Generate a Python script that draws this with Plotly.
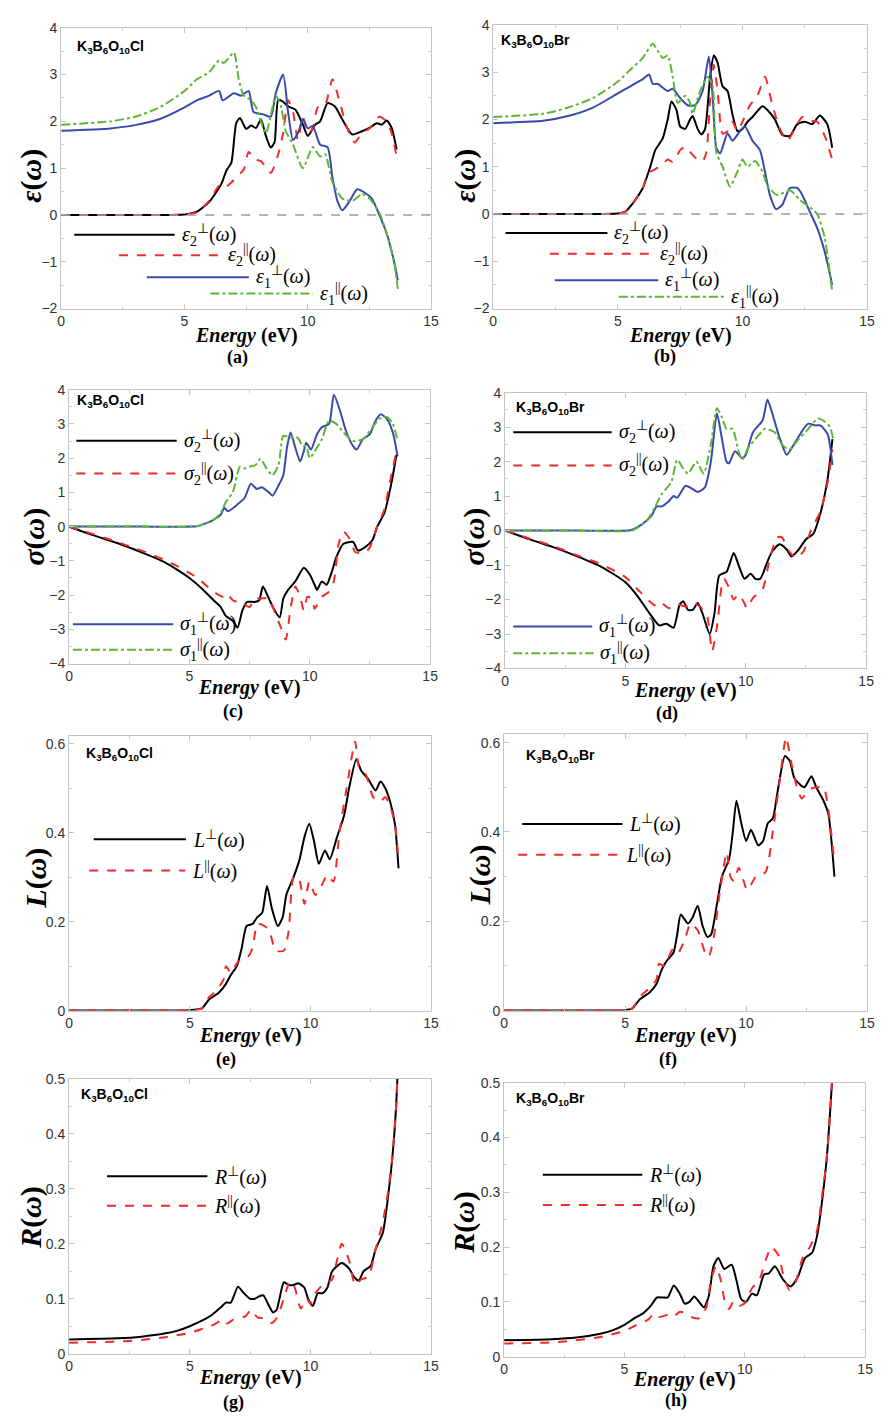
import plotly.graph_objects as go

W, H = 883, 1423

# ---------------- data (Energy in eV) ----------------
# (a) K3B6O10Cl dielectric function
a_e2perp_x = [0, 3, 5, 5.5, 6, 6.5, 6.7, 6.9, 7.1, 7.25, 7.5, 7.7, 7.9, 8.1, 8.3, 8.5, 8.65, 8.8, 9.0, 9.2, 9.5, 9.8, 10.0, 10.3, 10.5, 10.8, 11.1, 11.4, 11.8, 12.2, 12.5, 12.8, 13.0, 13.2, 13.4, 13.6]
a_e2perp_y = [0, 0, 0.01, 0.07, 0.28, 0.67, 0.95, 1.12, 1.97, 2.07, 1.84, 1.91, 1.86, 2.04, 1.69, 1.44, 1.55, 2.46, 2.42, 2.32, 2.25, 1.93, 1.69, 1.93, 2.0, 2.39, 2.32, 2.04, 1.72, 1.79, 1.86, 1.96, 1.93, 2.02, 1.86, 1.40]
a_e2par_x = [0, 3, 5, 5.5, 6, 6.4, 6.6, 7.0, 7.4, 7.6, 7.8, 8.1, 8.5, 8.8, 9.0, 9.2, 9.4, 9.6, 9.8, 10.0, 10.2, 10.4, 10.7, 11.0, 11.3, 11.6, 11.9, 12.2, 12.5, 12.9, 13.2, 13.4, 13.6]
a_e2par_y = [0, 0, 0.01, 0.06, 0.3, 0.62, 0.57, 0.75, 0.97, 1.35, 1.2, 1.15, 0.9, 1.3, 1.75, 2.45, 2.2, 1.6, 2.1, 1.75, 1.85, 2.3, 2.35, 2.9, 2.4, 1.85, 1.55, 1.75, 1.85, 2.1, 2.0, 1.75, 1.25]
a_e1perp_x = [0, 2, 3, 4, 5, 5.5, 6.0, 6.4, 6.55, 7.0, 7.3, 7.6, 7.8, 8.2, 8.5, 8.7, 9.0, 9.2, 9.4, 9.6, 9.8, 10.0, 10.2, 10.5, 10.8, 11.0, 11.2, 11.4, 11.7, 12.0, 12.3, 12.6, 12.9, 13.2, 13.5, 13.65]
a_e1perp_y = [1.8, 1.85, 1.92, 2.05, 2.3, 2.45, 2.55, 2.65, 2.45, 2.6, 2.55, 2.65, 2.2, 2.15, 2.1, 2.6, 3.0, 2.2, 1.6, 1.75, 2.05, 1.85, 1.9, 1.5, 1.45, 0.8, 0.3, 0.1, 0.3, 0.55, 0.48, 0.35, 0.0, -0.4, -1.0, -1.4]
a_e1par_x = [0, 2, 3, 4, 5, 5.5, 6.0, 6.4, 6.6, 7.0, 7.2, 7.4, 7.7, 7.9, 8.3, 8.7, 8.9, 9.1, 9.4, 9.8, 10.2, 10.5, 10.7, 11.0, 11.4, 11.8, 12.2, 12.5, 12.9, 13.2, 13.5, 13.65]
a_e1par_y = [1.93, 2.0, 2.1, 2.3, 2.65, 2.9, 3.05, 3.3, 3.25, 3.47, 2.9, 2.55, 2.45, 2.3, 1.75, 2.55, 2.35, 1.8, 1.5, 1.0, 1.45, 1.25, 1.3, 0.7, 0.35, 0.3, 0.45, 0.35, 0.05, -0.4, -1.0, -1.58]

# (b) K3B6O10Br dielectric function
b_e2perp_x = [0, 3, 5, 5.3, 5.7, 6.0, 6.3, 6.5, 6.8, 7.0, 7.15, 7.35, 7.5, 7.7, 7.9, 8.0, 8.2, 8.35, 8.5, 8.7, 8.85, 9.0, 9.2, 9.4, 9.6, 9.8, 10.0, 10.2, 10.4, 10.8, 11.0, 11.3, 11.6, 11.9, 12.2, 12.5, 12.8, 13.1, 13.4, 13.6]
b_e2perp_y = [0, 0, 0.01, 0.05, 0.3, 0.55, 1.0, 1.35, 1.6, 2.0, 2.38, 2.2, 1.85, 1.8, 2.0, 2.07, 1.8, 1.68, 1.8, 2.9, 3.35, 3.2, 2.7, 2.6, 2.1, 1.75, 1.8, 1.95, 2.05, 2.28, 2.2, 2.0, 1.67, 1.65, 1.9, 1.95, 1.9, 2.08, 1.9, 1.4]
b_e2par_x = [0, 3, 5, 5.3, 5.7, 6.0, 6.2, 6.5, 6.8, 7.0, 7.2, 7.5, 7.7, 8.0, 8.2, 8.4, 8.55, 8.7, 8.85, 9.0, 9.2, 9.4, 9.6, 9.8, 10.0, 10.3, 10.6, 10.9, 11.2, 11.5, 11.8, 12.1, 12.4, 12.7, 13.0, 13.3, 13.6]
b_e2par_y = [0, 0, 0.01, 0.05, 0.3, 0.55, 0.85, 0.95, 1.05, 1.15, 1.1, 1.35, 1.42, 1.25, 1.15, 1.12, 1.3, 2.4, 3.15, 2.6, 1.7, 1.75, 1.95, 1.75, 1.95, 2.3, 2.5, 2.9, 2.3, 1.8, 1.55, 1.8, 2.05, 1.97, 1.95, 1.65, 1.15]
b_e1perp_x = [0, 2, 3, 4, 5, 5.5, 6.0, 6.25, 6.4, 6.6, 7.0, 7.2, 7.5, 7.8, 8.1, 8.4, 8.65, 8.8, 8.95, 9.1, 9.4, 9.6, 9.9, 10.1, 10.4, 10.7, 10.9, 11.1, 11.35, 11.6, 11.9, 12.2, 12.4, 12.7, 13.0, 13.3, 13.6]
b_e1perp_y = [1.92, 1.97, 2.07, 2.25, 2.55, 2.7, 2.85, 2.95, 2.75, 2.75, 2.6, 2.65, 2.45, 2.3, 2.3, 2.6, 3.33, 2.5, 1.4, 1.28, 1.7, 1.55, 1.75, 1.85, 1.55, 1.35, 0.9, 0.4, 0.1, 0.2, 0.55, 0.55, 0.4, 0.05, -0.3, -0.8, -1.5]
b_e1par_x = [0, 2, 3, 4, 5, 5.5, 6.0, 6.4, 6.6, 6.8, 7.0, 7.2, 7.4, 7.7, 7.9, 8.0, 8.3, 8.6, 8.8, 8.95, 9.2, 9.5, 9.8, 10.0, 10.2, 10.5, 10.8, 11.0, 11.4, 11.9, 12.3, 12.8, 13.0, 13.3, 13.6]
b_e1par_y = [2.05, 2.12, 2.25, 2.45, 2.8, 3.05, 3.3, 3.6, 3.45, 3.3, 3.35, 2.9, 2.35, 2.5, 2.35, 2.12, 2.6, 2.9, 2.7, 1.3, 1.0, 0.58, 0.9, 1.15, 1.0, 1.12, 0.9, 0.6, 0.4, 0.5, 0.3, 0.1, 0.0, -0.5, -1.65]

# (c) K3B6O10Cl conductivity
c_s1perp_x = [0, 3, 5.3, 5.5, 6.0, 6.3, 6.45, 6.6, 7.0, 7.3, 7.55, 7.8, 8.0, 8.3, 8.45, 8.7, 8.9, 9.05, 9.2, 9.4, 9.6, 9.75, 9.85, 10.05, 10.3, 10.5, 10.8, 11.0, 11.25, 11.5, 11.8, 11.95, 12.2, 12.5, 12.7, 12.95, 13.2, 13.45, 13.65]
c_s1perp_y = [0, 0, 0.01, 0.05, 0.2, 0.35, 0.55, 0.45, 0.65, 0.85, 1.25, 1.1, 1.15, 1.0, 0.9, 1.2, 1.5, 2.3, 2.75, 2.3, 1.9, 2.2, 2.45, 2.25, 2.7, 2.9, 3.0, 3.85, 3.4, 2.8, 2.35, 2.25, 2.55, 2.7, 3.05, 3.28, 3.15, 2.75, 2.05]
c_s1par_x = [0, 3, 5.3, 6.0, 6.3, 6.5, 6.8, 7.1, 7.3, 7.5, 7.75, 7.95, 8.2, 8.45, 8.7, 8.9, 9.2, 9.5, 9.7, 9.85, 10.0, 10.2, 10.5, 10.8, 11.1, 11.4, 11.8, 12.2, 12.5, 12.9, 13.2, 13.45, 13.65]
c_s1par_y = [0, 0, 0.01, 0.2, 0.4, 0.7, 1.0, 1.75, 1.7, 1.75, 1.8, 1.98, 1.7, 1.5, 1.8, 2.65, 2.6, 2.6, 2.35, 2.35, 2.0, 2.2, 2.55, 3.1, 3.0, 2.75, 2.5, 2.55, 2.8, 3.15, 3.2, 3.0, 2.5]
c_s2perp_x = [0, 1, 2, 3, 4, 5, 5.5, 6.0, 6.3, 6.5, 6.8, 7.0, 7.2, 7.4, 7.7, 7.9, 8.05, 8.3, 8.5, 8.75, 8.9, 9.1, 9.4, 9.75, 10.0, 10.2, 10.3, 10.5, 10.7, 10.9, 11.1, 11.4, 11.8, 12.0, 12.3, 12.6, 12.8, 13.1, 13.4, 13.6]
c_s2perp_y = [0, -0.25, -0.48, -0.75, -1.05, -1.5, -1.8, -2.15, -2.35, -2.6, -2.75, -2.95, -2.45, -2.2, -2.2, -2.15, -1.75, -2.1, -2.4, -2.65, -2.1, -1.85, -1.6, -1.2, -1.4, -1.7, -1.85, -1.6, -1.7, -1.35, -0.9, -0.5, -0.45, -0.7, -0.6, -0.4, 0.0, 0.4, 1.3, 2.1]
c_s2par_x = [0, 1, 2, 3, 4, 5, 5.5, 6.0, 6.4, 6.55, 6.8, 7.2, 7.5, 7.7, 8.0, 8.3, 8.6, 8.8, 9.0, 9.2, 9.4, 9.6, 9.75, 9.9, 10.1, 10.2, 10.5, 10.8, 11.0, 11.2, 11.4, 11.65, 11.9, 12.3, 12.5, 12.8, 13.1, 13.3, 13.6]
c_s2par_y = [0, -0.22, -0.45, -0.7, -0.98, -1.35, -1.6, -1.9, -2.05, -1.95, -2.15, -2.25, -2.35, -2.1, -2.1, -2.1, -2.6, -2.95, -3.3, -2.4, -1.75, -2.05, -2.45, -2.05, -2.1, -2.4, -2.05, -1.9, -1.6, -0.5, -0.15, -0.35, -0.75, -0.75, -0.6, 0.0, 0.5, 1.2, 2.2]

# (d) K3B6O10Br conductivity
d_s1perp_x = [0, 3, 5.2, 5.5, 5.9, 6.1, 6.3, 6.5, 6.8, 7.0, 7.15, 7.5, 7.8, 8.0, 8.3, 8.55, 8.8, 9.0, 9.2, 9.3, 9.55, 9.85, 10.0, 10.3, 10.7, 10.9, 11.1, 11.4, 11.7, 12.0, 12.4, 12.6, 12.9, 13.1, 13.4, 13.6]
d_s1perp_y = [0, 0, 0.01, 0.1, 0.3, 0.45, 0.7, 0.7, 0.85, 1.0, 0.95, 1.3, 1.2, 1.12, 1.25, 2.0, 3.4, 2.7, 2.0, 1.95, 2.3, 2.1, 2.2, 2.85, 3.2, 3.8, 3.4, 2.7, 2.2, 2.5, 2.95, 3.1, 3.05, 3.05, 2.8, 1.9]
d_s1par_x = [0, 3, 5.3, 5.9, 6.2, 6.5, 6.9, 7.15, 7.4, 7.6, 7.95, 8.25, 8.55, 8.8, 9.0, 9.2, 9.45, 9.7, 9.85, 10.1, 10.4, 10.8, 11.2, 11.5, 11.8, 12.2, 12.6, 13.0, 13.3, 13.5, 13.65]
d_s1par_y = [0, 0, 0.01, 0.3, 0.65, 1.05, 1.4, 2.05, 1.8, 1.65, 2.0, 1.65, 2.5, 3.55, 3.3, 2.95, 2.95, 2.3, 2.05, 2.4, 2.65, 2.95, 2.85, 2.5, 2.35, 2.65, 2.95, 3.25, 3.15, 3.0, 2.6]
d_s2perp_x = [0, 1, 2, 3, 4, 5, 5.5, 6.0, 6.4, 6.7, 7.0, 7.25, 7.4, 7.6, 7.8, 8.0, 8.2, 8.5, 8.7, 8.9, 9.2, 9.5, 9.7, 9.95, 10.2, 10.4, 10.6, 10.9, 11.1, 11.4, 11.7, 11.9, 12.2, 12.5, 12.8, 13.1, 13.4, 13.6]
d_s2perp_y = [0, -0.25, -0.48, -0.75, -1.05, -1.5, -1.9, -2.4, -2.75, -2.7, -2.82, -2.15, -2.05, -2.3, -2.3, -2.1, -2.4, -3.0, -2.4, -1.3, -1.2, -0.65, -1.0, -1.4, -1.25, -1.4, -1.4, -0.9, -0.6, -0.4, -0.55, -0.75, -0.55, -0.25, -0.1, 0.5, 1.5, 2.65]
d_s2par_x = [0, 1, 2, 3, 4, 5, 5.5, 6.0, 6.3, 6.5, 6.8, 7.2, 7.5, 7.8, 8.1, 8.4, 8.6, 8.8, 9.0, 9.1, 9.3, 9.5, 9.7, 9.9, 10.05, 10.3, 10.7, 11.0, 11.3, 11.5, 11.8, 12.1, 12.4, 12.7, 13.1, 13.4, 13.6]
d_s2par_y = [0, -0.23, -0.45, -0.72, -0.98, -1.35, -1.7, -2.05, -2.2, -2.1, -2.25, -2.15, -2.2, -2.1, -2.2, -2.5, -3.5, -2.8, -1.6, -1.4, -1.65, -2.0, -1.85, -2.05, -2.25, -1.95, -1.7, -0.8, -0.2, -0.2, -0.6, -0.8, -0.6, 0.0, 0.55, 1.4, 2.35]

# (e) K3B6O10Cl energy loss
e_lperp_x = [0, 3, 5, 5.5, 5.8, 6.2, 6.5, 6.7, 6.95, 7.15, 7.35, 7.6, 7.8, 8.0, 8.2, 8.4, 8.65, 8.85, 9.0, 9.3, 9.55, 9.75, 9.95, 10.15, 10.35, 10.6, 10.8, 11.1, 11.4, 11.6, 11.9, 12.1, 12.4, 12.7, 12.9, 13.1, 13.3, 13.5, 13.65]
e_lperp_y = [0, 0, 0.001, 0.005, 0.025, 0.04, 0.06, 0.08, 0.1, 0.14, 0.19, 0.195, 0.21, 0.22, 0.28, 0.23, 0.19, 0.21, 0.26, 0.3, 0.34, 0.39, 0.42, 0.38, 0.33, 0.36, 0.34, 0.39, 0.44, 0.5, 0.565, 0.54, 0.52, 0.495, 0.515, 0.5, 0.47, 0.42, 0.32]
e_lpar_x = [0, 3, 5, 5.5, 5.8, 6.1, 6.4, 6.5, 6.7, 7.0, 7.4, 7.6, 7.8, 8.1, 8.3, 8.55, 8.9, 9.1, 9.3, 9.5, 9.75, 9.95, 10.2, 10.45, 10.7, 10.95, 11.2, 11.5, 11.85, 12.0, 12.3, 12.6, 12.9, 13.1, 13.3, 13.5, 13.65]
e_lpar_y = [0, 0, 0.001, 0.005, 0.03, 0.045, 0.07, 0.1, 0.085, 0.11, 0.12, 0.14, 0.195, 0.19, 0.18, 0.135, 0.135, 0.18, 0.3, 0.3, 0.24, 0.29, 0.26, 0.28, 0.305, 0.29, 0.4, 0.5, 0.605, 0.55, 0.53, 0.48, 0.47, 0.48, 0.46, 0.42, 0.34]

# (f) K3B6O10Br energy loss
f_lperp_x = [0, 3, 5, 5.3, 5.6, 6.0, 6.3, 6.5, 6.7, 7.0, 7.15, 7.3, 7.6, 7.8, 8.0, 8.2, 8.4, 8.55, 8.8, 9.0, 9.3, 9.45, 9.6, 9.8, 10.0, 10.2, 10.5, 10.7, 10.9, 11.1, 11.3, 11.6, 11.8, 12.0, 12.4, 12.7, 12.9, 13.2, 13.4, 13.65]
f_lperp_y = [0, 0, 0.001, 0.005, 0.025, 0.04, 0.06, 0.09, 0.11, 0.13, 0.17, 0.215, 0.195, 0.21, 0.235, 0.19, 0.165, 0.17, 0.24, 0.3, 0.34, 0.4, 0.47, 0.42, 0.38, 0.405, 0.37, 0.38, 0.42, 0.43, 0.49, 0.57, 0.56, 0.52, 0.5, 0.525, 0.5, 0.47, 0.44, 0.3]
f_lpar_x = [0, 3, 5, 5.3, 5.6, 6.0, 6.3, 6.4, 6.6, 7.0, 7.2, 7.5, 7.7, 8.0, 8.3, 8.45, 8.65, 8.9, 9.1, 9.2, 9.35, 9.5, 9.7, 10.05, 10.4, 10.8, 11.1, 11.4, 11.65, 11.85, 12.1, 12.3, 12.6, 12.9, 13.2, 13.4, 13.65]
f_lpar_y = [0, 0, 0.001, 0.005, 0.03, 0.05, 0.07, 0.105, 0.1, 0.14, 0.13, 0.165, 0.195, 0.18, 0.13, 0.12, 0.16, 0.26, 0.33, 0.355, 0.3, 0.29, 0.32, 0.27, 0.3, 0.31, 0.4, 0.52, 0.612, 0.56, 0.5, 0.475, 0.495, 0.5, 0.5, 0.45, 0.33]

# (g) K3B6O10Cl reflectivity
g_rperp_x = [0, 2, 3, 4, 4.5, 5.0, 5.5, 5.9, 6.3, 6.5, 6.7, 7.0, 7.2, 7.5, 7.7, 7.9, 8.05, 8.25, 8.45, 8.6, 8.9, 9.1, 9.3, 9.5, 9.75, 9.9, 10.1, 10.3, 10.5, 10.7, 10.9, 11.3, 11.6, 11.8, 12.0, 12.2, 12.5, 12.7, 13.0, 13.2, 13.4, 13.55, 13.6]
g_rperp_y = [0.026, 0.028, 0.031, 0.037, 0.042, 0.05, 0.06, 0.07, 0.085, 0.093, 0.093, 0.122, 0.112, 0.1, 0.1, 0.105, 0.106, 0.09, 0.075, 0.08, 0.13, 0.125, 0.125, 0.128, 0.12, 0.1, 0.087, 0.11, 0.11, 0.12, 0.15, 0.165, 0.155, 0.14, 0.133, 0.15, 0.16, 0.19, 0.22, 0.28, 0.36, 0.45, 0.5]
g_rpar_x = [0, 2, 3, 4, 5.0, 5.5, 6.0, 6.4, 6.55, 6.8, 7.3, 7.55, 7.8, 8.1, 8.4, 8.6, 8.9, 9.15, 9.35, 9.6, 9.85, 10.0, 10.2, 10.5, 10.9, 11.05, 11.3, 11.6, 11.85, 12.1, 12.4, 12.7, 13.0, 13.2, 13.4, 13.55, 13.6]
g_rpar_y = [0.02, 0.022, 0.025, 0.03, 0.038, 0.045, 0.053, 0.062, 0.055, 0.062, 0.068, 0.08, 0.066, 0.064, 0.056, 0.065, 0.1, 0.132, 0.12, 0.082, 0.1, 0.09, 0.11, 0.125, 0.135, 0.16, 0.2, 0.17, 0.125, 0.135, 0.14, 0.19, 0.24, 0.29, 0.36, 0.45, 0.5]

# (h) K3B6O10Br reflectivity
h_rperp_x = [0, 2, 3, 4, 4.5, 5.0, 5.4, 5.8, 6.1, 6.35, 6.6, 6.8, 7.05, 7.3, 7.5, 7.7, 7.9, 8.1, 8.3, 8.5, 8.7, 8.9, 9.15, 9.45, 9.65, 9.85, 10.05, 10.3, 10.5, 10.8, 11.0, 11.25, 11.6, 11.9, 12.2, 12.5, 12.8, 13.0, 13.2, 13.4, 13.55, 13.62]
h_rperp_y = [0.03, 0.032, 0.035, 0.042, 0.048, 0.058, 0.07, 0.08, 0.093, 0.108, 0.108, 0.108, 0.13, 0.115, 0.097, 0.1, 0.11, 0.1, 0.09, 0.11, 0.165, 0.18, 0.16, 0.168, 0.14, 0.105, 0.1, 0.115, 0.112, 0.15, 0.152, 0.165, 0.14, 0.128, 0.145, 0.18, 0.19, 0.22, 0.28, 0.36, 0.45, 0.5]
h_rpar_x = [0, 2, 3, 4, 5.0, 5.5, 6.0, 6.2, 6.4, 6.8, 7.0, 7.3, 7.5, 7.8, 8.1, 8.4, 8.6, 8.8, 9.0, 9.2, 9.35, 9.55, 9.8, 10.0, 10.3, 10.6, 10.9, 11.1, 11.4, 11.6, 11.85, 12.1, 12.4, 12.7, 13.0, 13.2, 13.4, 13.55, 13.62]
h_rpar_y = [0.024, 0.026, 0.03, 0.036, 0.047, 0.058, 0.068, 0.078, 0.072, 0.076, 0.072, 0.082, 0.08, 0.072, 0.07, 0.09, 0.14, 0.165, 0.14, 0.095, 0.087, 0.102, 0.093, 0.098, 0.125, 0.14, 0.18, 0.2, 0.185, 0.15, 0.122, 0.135, 0.18, 0.2, 0.23, 0.29, 0.36, 0.45, 0.5]

x_ticks = [0, 5, 10, 15]
panel_letters = ["(a)", "(b)", "(c)", "(d)", "(e)", "(f)", "(g)", "(h)"]
compounds = ["K<sub>3</sub>B<sub>6</sub>O<sub>10</sub>Cl", "K<sub>3</sub>B<sub>6</sub>O<sub>10</sub>Br"]

# ---------------- styles ----------------
BLACK = "#000000"
RED = "#f22a2a"
BLUE = "#3a4aab"
GREEN = "#5cb832"
STY = {
    "k": dict(color=BLACK, dash="solid"),
    "r": dict(color=RED, dash="dash"),
    "b": dict(color=BLUE, dash="solid"),
    "g": dict(color=GREEN, dash="dashdot"),
}
SERIF = "Liberation Serif"
SANS = "Liberation Sans"

eps2p = "<i>ε</i><sub>2</sub><sup>⊥</sup>(<i>ω</i>)"
eps2l = "<i>ε</i><sub>2</sub><sup>||</sup>(<i>ω</i>)"
eps1p = "<i>ε</i><sub>1</sub><sup>⊥</sup>(<i>ω</i>)"
eps1l = "<i>ε</i><sub>1</sub><sup>||</sup>(<i>ω</i>)"
sig2p = "<i>σ</i><sub>2</sub><sup>⊥</sup>(<i>ω</i>)"
sig2l = "<i>σ</i><sub>2</sub><sup>||</sup>(<i>ω</i>)"
sig1p = "<i>σ</i><sub>1</sub><sup>⊥</sup>(<i>ω</i>)"
sig1l = "<i>σ</i><sub>1</sub><sup>||</sup>(<i>ω</i>)"
Lp = "<i>L</i><sup>⊥</sup>(<i>ω</i>)"
Ll = "<i>L</i><sup>||</sup>(<i>ω</i>)"
Rp = "<i>R</i><sup>⊥</sup>(<i>ω</i>)"
Rl = "<i>R</i><sup>||</sup>(<i>ω</i>)"

# panel layout (pixel boxes) and content
panels = [
    dict(box=(58, 433, 20, 304), yr=[-2, 4], dt=1, ytitle="<b><i>ε</i>(<i>ω</i>)</b>", yt=(27, 170),
         et=331, lab=(237, 353), comp=0, cpos=(0.037, 0.933), zero=True,
         series=[("k", a_e2perp_x, a_e2perp_y), ("r", a_e2par_x, a_e2par_y), ("b", a_e1perp_x, a_e1perp_y), ("g", a_e1par_x, a_e1par_y)],
         leg=[("k", 0.53, 4.6, -0.42, eps2p), ("r", 2.34, 6.47, -0.86, eps2l), ("b", 3.47, 7.61, -1.33, eps1p), ("g", 6.05, 10.2, -1.68, eps1l)]),
    dict(box=(496, 875, 17, 304), yr=[-2, 4], dt=1, ytitle="<b><i>ε</i>(<i>ω</i>)</b>", yt=(467, 170),
         et=331, lab=(670, 352), comp=1, cpos=(0.016, 0.944), zero=True,
         series=[("k", b_e2perp_x, b_e2perp_y), ("r", b_e2par_x, b_e2par_y), ("b", b_e1perp_x, b_e1perp_y), ("g", b_e1par_x, b_e1par_y)],
         leg=[("k", 0.49, 4.58, -0.40, eps2p), ("r", 2.27, 6.42, -0.84, eps2l), ("b", 2.47, 6.62, -1.40, eps1p), ("g", 5.04, 9.26, -1.75, eps1l)]),
    dict(box=(66, 432, 386, 663), yr=[-4, 4], dt=1, ytitle="<b><i>σ</i>(<i>ω</i>)</b>", yt=(30, 535),
         et=687, lab=(232, 712), comp=0, cpos=(0.016, 0.957), zero=False,
         series=[("k", c_s2perp_x, c_s2perp_y), ("r", c_s2par_x, c_s2par_y), ("b", c_s1perp_x, c_s1perp_y), ("g", c_s1par_x, c_s1par_y)],
         leg=[("k", 0.3, 4.47, 2.51, sig2p), ("r", 0.3, 4.47, 1.55, sig2l), ("b", 0.16, 4.33, -2.85, sig1p), ("g", 0.16, 4.33, -3.6, sig1l)]),
    dict(box=(508, 874, 389, 668), yr=[-4, 4], dt=1, ytitle="<b><i>σ</i>(<i>ω</i>)</b>", yt=(476, 535),
         et=690, lab=(672, 714), comp=1, cpos=(0.025, 0.943), zero=False,
         series=[("k", d_s2perp_x, d_s2perp_y), ("r", d_s2par_x, d_s2par_y), ("b", d_s1perp_x, d_s1perp_y), ("g", d_s1par_x, d_s1par_y)],
         leg=[("k", 0.34, 4.43, 2.85, sig2p), ("r", 0.34, 4.43, 1.89, sig2l), ("b", 0.34, 3.62, -2.78, sig1p), ("g", 0.34, 3.67, -3.56, sig1l)]),
    dict(box=(66, 433, 736, 1014), yr=[0, 0.618], dt=0.2, ytitle="<b><i>L</i>(<i>ω</i>)</b>", yt=(33, 880),
         et=1039, lab=(225, 1063), comp=0, cpos=(0.041, 0.935), zero=False,
         series=[("k", e_lperp_x, e_lperp_y), ("r", e_lpar_x, e_lpar_y)],
         leg=[("k", 1.02, 4.84, 0.385, Lp), ("r", 0.83, 4.81, 0.315, Ll)]),
    dict(box=(507, 875, 734, 1014), yr=[0, 0.62], dt=0.2, ytitle="<b><i>L</i>(<i>ω</i>)</b>", yt=(483, 877),
         et=1039, lab=(673, 1063), comp=1, cpos=(0.054, 0.921), zero=False,
         series=[("k", f_lperp_x, f_lperp_y), ("r", f_lpar_x, f_lpar_y)],
         leg=[("k", 0.75, 4.89, 0.418, Lp), ("r", 0.58, 4.75, 0.349, Ll)]),
    dict(box=(66, 433, 1083, 1361), yr=[0, 0.5], dt=0.1, ytitle="<b><i>R</i>(<i>ω</i>)</b>", yt=(28, 1223),
         et=1385, lab=(233, 1410), comp=0, cpos=(0.027, 0.942), zero=False,
         series=[("k", g_rperp_x, g_rperp_y), ("r", g_rpar_x, g_rpar_y)],
         leg=[("k", 1.57, 5.73, 0.323, Rp), ("r", 1.57, 5.73, 0.269, Rl)]),
    dict(box=(507, 873, 1087, 1364), yr=[0, 0.5], dt=0.1, ytitle="<b><i>R</i>(<i>ω</i>)</b>", yt=(467, 1228),
         et=1387, lab=(681, 1408), comp=1, cpos=(0.027, 0.942), zero=False,
         series=[("k", h_rperp_x, h_rperp_y), ("r", h_rpar_x, h_rpar_y)],
         leg=[("k", 1.61, 5.74, 0.332, Rp), ("r", 1.61, 5.74, 0.277, Rl)]),
]

fig = go.Figure()
shapes = []
annots = []
layout = {}


def px(x):
    return x / W


def py(y):
    return 1 - y / H


for i, p in enumerate(panels):
    n = "" if i == 0 else str(i + 1)
    xa, ya = "x" + n, "y" + n
    x0, x1, y0, y1 = p["box"]
    axis_common = dict(showline=True, mirror="ticks", linecolor="#c4c4c4", linewidth=1,
                       ticks="inside", ticklen=5, tickcolor="#c4c4c4", showgrid=False, zeroline=False,
                       tickfont=dict(family=SANS, size=14, color="#333333"))
    layout["xaxis" + n] = dict(domain=[px(x0), px(x1)], range=[0, 15], anchor=ya, tickvals=x_ticks,
                               minor=dict(ticks="inside", ticklen=3, tickcolor="#d0d0d0", dtick=2.5),
                               **axis_common)
    layout["yaxis" + n] = dict(domain=[py(y1), py(y0)], range=p["yr"], anchor=xa, dtick=p["dt"],
                               minor=dict(ticks="inside", ticklen=3, tickcolor="#d0d0d0", dtick=p["dt"] / 2),
                               **axis_common)
    if p["zero"]:
        shapes.append(dict(type="line", xref=xa + " domain", yref=ya, x0=0, x1=1, y0=0, y1=0,
                           line=dict(color="#9a9a9a", width=1.5, dash="dash")))
    for key, xs, ys in p["series"]:
        st = STY[key]
        fig.add_trace(go.Scatter(x=xs, y=ys, xaxis=xa, yaxis=ya, mode="lines", showlegend=False,
                                 hoverinfo="skip",
                                 line=dict(color=st["color"], dash=st["dash"], width=2,
                                           shape="spline", smoothing=0.6)))
    for key, lx0, lx1, ly, txt in p["leg"]:
        st = STY[key]
        shapes.append(dict(type="line", xref=xa, yref=ya, x0=lx0, x1=lx1, y0=ly, y1=ly,
                           line=dict(color=st["color"], dash=st["dash"], width=2)))
        annots.append(dict(xref=xa, yref=ya, x=lx1, y=ly, text=txt, showarrow=False, xanchor="left",
                           yanchor="middle", xshift=5, font=dict(family=SERIF, size=20, color="black")))
    # compound label
    annots.append(dict(xref=xa + " domain", yref=ya + " domain", x=p["cpos"][0], y=p["cpos"][1],
                       text="<b>" + compounds[p["comp"]] + "</b>", showarrow=False, xanchor="left",
                       yanchor="middle", font=dict(family=SANS, size=14, color="black")))
    # y title
    annots.append(dict(xref="paper", yref="paper", x=px(p["yt"][0]), y=py(p["yt"][1]), text=p["ytitle"],
                       textangle=-90, showarrow=False, xanchor="center", yanchor="middle",
                       font=dict(family=SERIF, size=30, color="black")))
    # x title (Energy) centred between ticks 5 and 10
    annots.append(dict(xref=xa, yref="paper", x=7.5, y=py(p["et"]), text="<b><i>Energy</i> (eV)</b>",
                       showarrow=False, xanchor="center", yanchor="middle",
                       font=dict(family=SERIF, size=20, color="black")))
    # panel letter
    annots.append(dict(xref="paper", yref="paper", x=px(p["lab"][0]), y=py(p["lab"][1]),
                       text="<b>" + panel_letters[i] + "</b>", showarrow=False, xanchor="center",
                       yanchor="middle", font=dict(family=SERIF, size=18, color="black")))

fig.update_layout(width=W, height=H, margin=dict(l=0, r=0, t=0, b=0), plot_bgcolor="white",
                  paper_bgcolor="white", shapes=shapes, annotations=annots, hovermode=False, **layout)
fig.write_html("out.html", config={"displayModeBar": False, "staticPlot": True},
               post_script="document.body.style.margin='0';")
